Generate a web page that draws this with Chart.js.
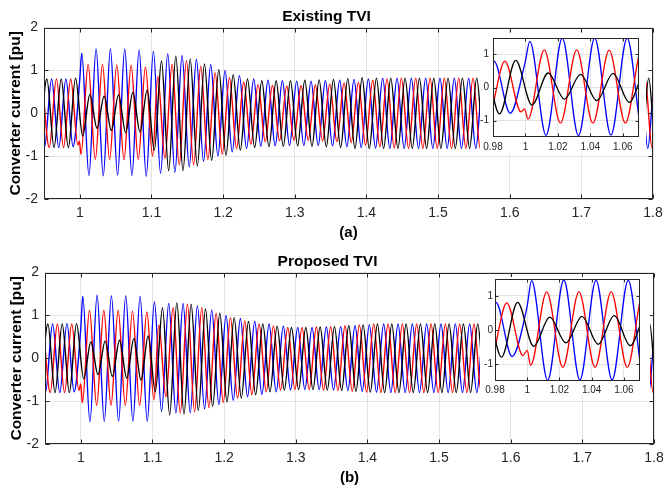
<!DOCTYPE html>
<html lang="en">
<head>
<meta charset="UTF-8">
<title>Converter current - Existing / Proposed TVI</title>
<script src="https://cdn.jsdelivr.net/npm/chart.js@4"></script>
<style>
  body { margin: 0; background: #fff; }
  #wrap { position: relative; width: 664px; height: 487px; }
  #wrap canvas { position: absolute; }
  .inset { background: #fff; }
</style>
</head>
<body>
<div id="wrap">
  <canvas id="topChart" width="664" height="245" style="left:0;top:0"></canvas>
  <canvas id="botChart" width="663" height="242" style="left:1px;top:245px"></canvas>
  <canvas id="topInset" class="inset" width="166" height="121" style="left:480px;top:33px"></canvas>
  <canvas id="botInset" class="inset" width="170" height="118" style="left:480px;top:277px"></canvas>
</div>

<script>
// current extremes (peaks / troughs), half a cycle apart
const HALF = 0.01;   // 50 Hz -> 10 ms between a peak and the next trough

// Existing TVI: [time of first extreme, extremes...]
const exBlue = [
  [0.9406, [0.8, -0.8, 0.8, -0.8, 0.8, -0.78]],
  [0.9997, [0.74]],
  [1.0027, [1.4, -1.45, 1.5, -1.46, 1.5, -1.44, 1.5, -1.45, 1.48, -1.47,
            1.45, -1.4, 1.39, -1.38, 1.35, -1.25, 1.26, -1.12, 1.14, -1.0,
            1.0, -0.9, 0.88, -0.82, 0.8, -0.77, 0.77, -0.76, 0.76, -0.75,
            0.75, -0.75, 0.75, -0.75, 0.76, -0.76, 0.77, -0.78, 0.79, -0.8,
            0.8, -0.81, 0.82]]
];
const exRed = [
  [0.9473, [0.8, -0.8, 0.8, -0.8, 0.8, -0.74]],
  [0.9994, [-0.65]],
  [1.0016, [-0.96, 1.14, -1.08, 1.14, -1.08, 1.13, -1.08, 1.12, -1.08, 1.08, -1.0]],
  [1.1088, [0.86, -1.05, 1.14, -1.2, 1.23, -1.2, 1.1, -1.08, 0.95, -0.95,
            0.83, -0.82, 0.73, -0.72, 0.67, -0.66, 0.65, -0.64, 0.64, -0.63,
            0.65, -0.63, 0.66, -0.64, 0.68, -0.66, 0.7, -0.68, 0.72, -0.74,
            0.77, -0.78, 0.8, -0.81, 0.82]]
];
const exBlack = [
  [0.944, [-0.8, 0.8, -0.8, 0.8, -0.8, 0.82,
           -0.53, 0.44, -0.35, 0.4, -0.4, 0.43, -0.45, 0.49, -0.44, 0.54,
           -0.86, 1.22, -1.34, 1.33, -1.34, 1.27, -1.23, 1.15, -1.1, 1.02,
           -0.98, 0.9, -0.86, 0.8, -0.8, 0.76, -0.78, 0.76, -0.77, 0.76,
           -0.76, 0.77, -0.77, 0.78, -0.78, 0.79, -0.8, 0.81, -0.82, 0.83]]
];
const exSettled = 0.82;

// Proposed TVI
const prBlue = [
  [0.9406, [0.8, -0.8, 0.8, -0.8, 0.81, -0.78]],
  [0.9998, [0.66]],
  [1.0027, [1.45, -1.48, 1.47, -1.47, 1.46, -1.47, 1.46, -1.47, 1.45, -1.47,
            1.32, -1.24, 1.28, -1.28, 1.28, -1.27, 1.23, -1.18, 1.13, -1.08,
            1.0, -0.98, 0.93, -0.9, 0.86, -0.84, 0.8, -0.78, 0.75, -0.74,
            0.72, -0.73, 0.72, -0.73, 0.73, -0.74, 0.74, -0.75, 0.76, -0.77,
            0.78, -0.79, 0.8]]
];
const prRed = [
  [0.9473, [0.8, -0.8, 0.8, -0.8, 0.8, -0.75]],
  [1.0, [-0.6]],
  [1.0021, [-1.04, 1.12, -1.1, 1.12, -1.1, 1.12, -1.1, 1.1, -1.1, 1.08, -0.97]],
  [1.1088, [0.78, -0.9, 1.18, -1.28, 1.26, -1.25, 1.18, -1.15, 1.05, -1.03,
            0.95, -0.93, 0.87, -0.85, 0.8, -0.78, 0.75, -0.74, 0.72, -0.73,
            0.72, -0.73, 0.73, -0.74, 0.74, -0.75, 0.76, -0.77, 0.78, -0.79, 0.8]]
];
const prBlack = [
  [0.944, [-0.8, 0.8, -0.8, 0.8, -0.8, 0.81,
           -0.48, 0.38, -0.38, 0.4, -0.42, 0.42, -0.46, 0.46, -0.51, 0.52,
           -0.78, 1.18, -1.32, 1.3, -1.3, 1.26, -1.22, 1.15, -1.12, 1.05,
           -1.02, 0.95, -0.93, 0.86, -0.85, 0.8, -0.78, 0.75, -0.74, 0.72,
           -0.73, 0.72, -0.73, 0.73, -0.74, 0.74, -0.75, 0.76, -0.77, 0.78,
           -0.79, 0.8]]
];
const prSettled = 0.8;

const mainXTicks = [1, 1.1, 1.2, 1.3, 1.4, 1.5, 1.6, 1.7, 1.8];
const mainYTicks = [-2, -1, 0, 1, 2];
const insetXTicks = [0.98, 1, 1.02, 1.04, 1.06];
const insetYTicks = [-1, 0, 1];

const FONT = "'Liberation Sans', Arial, Helvetica, sans-serif";
const AXIS = '#262626';
const GRID = '#e3e3e3';
Chart.defaults.font.family = FONT;

// peaks at their times; after the last read extreme the current stays settled
function series(segs, settled) {
  const pts = [];
  segs.forEach(([t0, vals]) => vals.forEach((v, k) => pts.push({x: t0 + k * HALF, y: v})));
  let last = pts[pts.length - 1];
  let t = last.x, s = last.y > 0 ? -1 : 1;
  while (t < 1.815) {
    t += HALF;
    pts.push({x: t, y: s * settled});
    s = -s;
  }
  return pts;
}

function datasets(blue, red, black, settled, lw) {
  const base = {pointRadius: 0, borderWidth: lw, fill: false, cubicInterpolationMode: 'monotone'};
  return [
    {...base, label: 'black', data: series(black, settled), borderColor: '#000000'},
    {...base, label: 'red', data: series(red, settled), borderColor: '#ff0000'},
    {...base, label: 'blue', data: series(blue, settled), borderColor: '#0000ff'}
  ];
}

// box with inward ticks on every side
const frame = {
  id: 'frame',
  afterDraw(chart, args, opts) {
    const {ctx, chartArea: a, scales: {x, y}} = chart;
    const L = Math.round(a.left) + 0.5, R = Math.round(a.right) - 0.5;
    const T = Math.round(a.top) + 0.5, B = Math.round(a.bottom) - 0.5;
    const len = opts.tick || 4;
    ctx.save();
    ctx.strokeStyle = AXIS;
    ctx.lineWidth = 1;
    ctx.beginPath();
    x.ticks.forEach(t => {
      const p = Math.round(x.getPixelForValue(t.value)) + 0.5;
      ctx.moveTo(p, B); ctx.lineTo(p, B - len);
      ctx.moveTo(p, T); ctx.lineTo(p, T + len);
    });
    y.ticks.forEach(t => {
      const p = Math.round(y.getPixelForValue(t.value)) + 0.5;
      ctx.moveTo(L, p); ctx.lineTo(L + len, p);
      ctx.moveTo(R, p); ctx.lineTo(R - len, p);
    });
    ctx.stroke();
    ctx.strokeRect(L, T, R - L, B - T);
    ctx.restore();
  }
};

const label = v => String(+v.toFixed(2));

// fixed axis sizes, no extra room for edge labels
const fixX = h => s => { s.height = h; s.paddingLeft = 0; s.paddingRight = 0; };
const fixY = w => s => { s.width = w; s.paddingTop = 0; s.paddingBottom = 0; };

function mainChart(id, title, sub, data, xHeight, subPad, rightPad) {
  return new Chart(document.getElementById(id), {
    type: 'line',
    data: {datasets: data},
    options: {
      responsive: false,
      animation: false,
      events: [],
      layout: {padding: {right: rightPad}},
      plugins: {
        legend: {display: false},
        tooltip: {enabled: false},
        title: {display: true, text: title, color: '#000',
                font: {size: 15.5, weight: 'bold'}, padding: {top: 7, bottom: 2}},
        frame: {tick: 4}
      },
      scales: {
        x: {
          type: 'linear', min: 0.95, max: 1.8,
          afterBuildTicks: s => { s.ticks = mainXTicks.map(v => ({value: v})); },
          afterFit: fixX(xHeight),
          ticks: {autoSkip: false, maxRotation: 0, padding: 6, color: AXIS,
                  font: {size: 14}, callback: label},
          grid: {color: GRID, drawTicks: false},
          border: {display: false},
          title: {display: true, text: sub, color: '#000',
                  font: {size: 15, weight: 'bold'}, padding: {top: 0, bottom: subPad}}
        },
        y: {
          min: -2, max: 2,
          afterBuildTicks: s => { s.ticks = mainYTicks.map(v => ({value: v})); },
          afterFit: fixY(44),
          ticks: {padding: 6, color: AXIS, font: {size: 14}, callback: label},
          grid: {color: GRID, drawTicks: false},
          border: {display: false},
          title: {display: true, text: 'Converter current [pu]', color: '#000',
                  font: {size: 15.5, weight: 'bold'}, padding: {top: 6, bottom: 0}}
        }
      }
    },
    plugins: [frame]
  });
}

function insetChart(id, data, pad, yWidth, xHeight, xPad, yPad) {
  return new Chart(document.getElementById(id), {
    type: 'line',
    data: {datasets: data},
    options: {
      responsive: false,
      animation: false,
      events: [],
      layout: {padding: pad},
      plugins: {legend: {display: false}, tooltip: {enabled: false}, frame: {tick: 3}},
      scales: {
        x: {
          type: 'linear', min: 0.98, max: 1.07,
          afterBuildTicks: s => { s.ticks = insetXTicks.map(v => ({value: v})); },
          afterFit: fixX(xHeight),
          ticks: {autoSkip: false, maxRotation: 0, padding: xPad, color: AXIS,
                  font: {size: 10}, callback: label},
          grid: {color: GRID, drawTicks: false},
          border: {display: false}
        },
        y: {
          min: -1.5, max: 1.5,
          afterBuildTicks: s => { s.ticks = insetYTicks.map(v => ({value: v})); },
          afterFit: fixY(yWidth),
          ticks: {padding: yPad, color: AXIS, font: {size: 10}, callback: label},
          grid: {color: GRID, drawTicks: false},
          border: {display: false}
        }
      }
    },
    plugins: [frame]
  });
}

mainChart('topChart', 'Existing TVI', '(a)', datasets(exBlue, exRed, exBlack, exSettled, 1.4), 46, 3, 11);
mainChart('botChart', 'Proposed TVI', '(b)', datasets(prBlue, prRed, prBlack, prSettled, 1.4), 43, 0, 10);
insetChart('topInset', datasets(exBlue, exRed, exBlack, exSettled, 1.3), {top: 5, right: 7}, 13, 17, 4, 4);
insetChart('botInset', datasets(prBlue, prRed, prBlack, prSettled, 1.3), {top: 2, right: 10}, 15, 14, 3, 2);
</script>
</body>
</html>
